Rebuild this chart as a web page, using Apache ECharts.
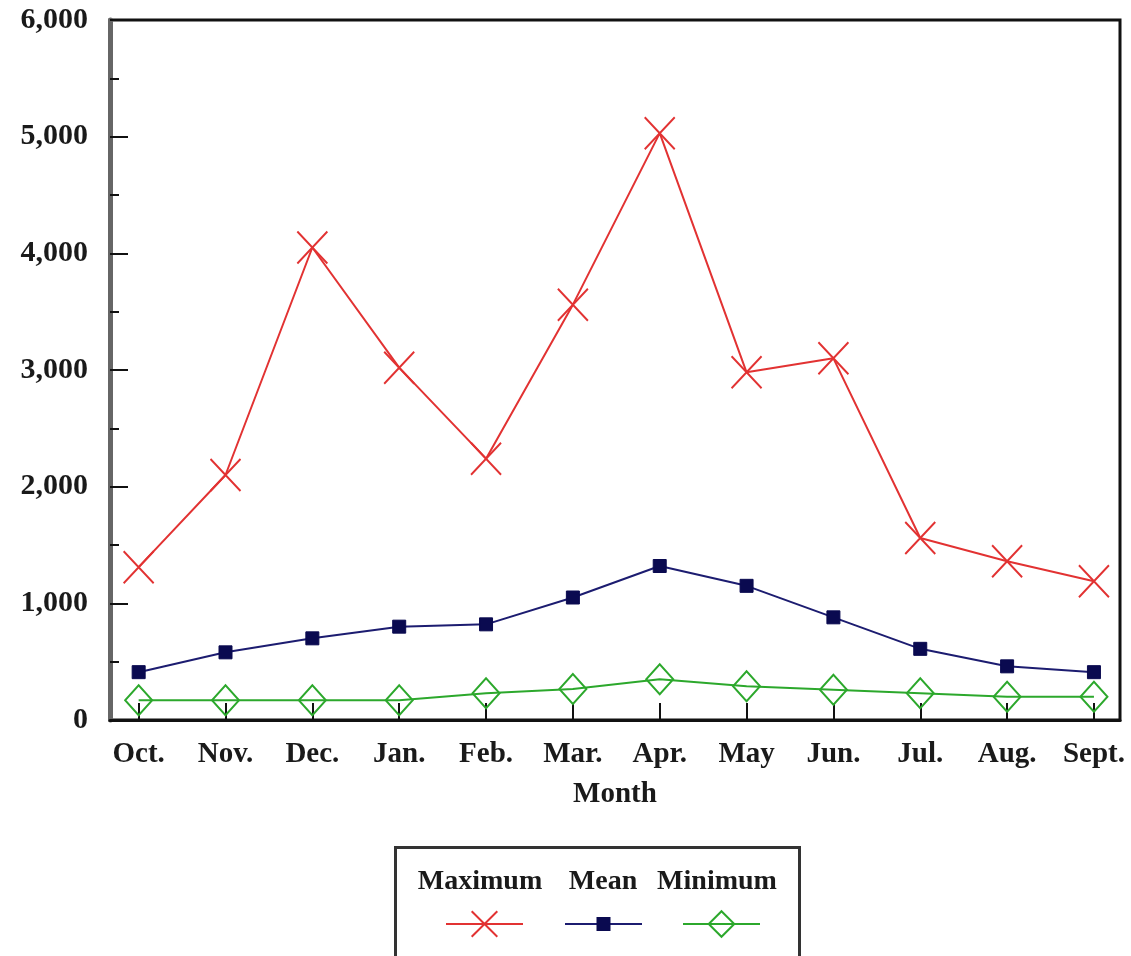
<!DOCTYPE html>
<html>
<head>
<meta charset="utf-8">
<script src="https://cdn.jsdelivr.net/npm/echarts@6/dist/echarts.min.js"></script>
<style>
  html, body { margin: 0; padding: 0; background: #fff; }
  #chart { width: 1131px; height: 956px; }
</style>
</head>
<body>
<div id="chart"></div>
<script>
// data
var months = ['Oct.', 'Nov.', 'Dec.', 'Jan.', 'Feb.', 'Mar.', 'Apr.', 'May', 'Jun.', 'Jul.', 'Aug.', 'Sept.'];
var maximum = [1310, 2100, 4050, 3020, 2240, 3560, 5030, 2980, 3100, 1560, 1360, 1190];
var mean = [410, 580, 700, 800, 820, 1050, 1320, 1150, 880, 610, 460, 410];
var minimum = [170, 170, 170, 170, 230, 265, 350, 290, 260, 230, 200, 200];
var yTicks = [0, 1000, 2000, 3000, 4000, 5000, 6000];

var font = 'Liberation Serif';
var monthIdx = months.map(function (m, i) { return i; });
function pairs(arr) { return arr.map(function (v, i) { return [i, v]; }); }

// one legend per series so each icon keeps its own marker size
function legendFor(name, left, h) {
    return {
        left: left,
        top: 924 - h / 2,
        padding: 0,
        itemWidth: 77,
        itemHeight: h,
        formatter: function () { return ''; },
        data: [name]
    };
}

function legendText(txt, x) {
    return {
        type: 'text', position: [x, 882],
        style: { text: txt, font: 'bold 28px "Liberation Serif"', fill: '#1a1a1a', textAlign: 'center', textVerticalAlign: 'middle' }
    };
}

var chart = echarts.init(document.getElementById('chart'));

var option = {
    animation: false,
    backgroundColor: '#fff',
    grid: {
        left: 110, top: 20, right: 11, bottom: 236,
        show: true,
        borderColor: '#111',
        borderWidth: 3
    },
    xAxis: {
        type: 'value',
        min: -0.33,
        max: 11.3,
        name: 'Month',
        nameLocation: 'middle',
        nameGap: 60,
        nameTextStyle: { fontFamily: font, fontSize: 29, fontWeight: 'bold', color: '#1a1a1a' },
        axisLine: { show: true, onZero: false, lineStyle: { color: '#111', width: 3 } },
        axisTick: { show: true, inside: true, length: 17, customValues: monthIdx, lineStyle: { color: '#111', width: 2 } },
        axisLabel: {
            customValues: monthIdx,
            margin: 20,
            fontFamily: font, fontSize: 29, fontWeight: 'bold', color: '#1a1a1a',
            formatter: function (v) { return months[Math.round(v)]; }
        },
        splitLine: { show: false }
    },
    yAxis: {
        type: 'value',
        min: yTicks[0],
        max: yTicks[yTicks.length - 1],
        interval: 1000,
        axisLine: { show: true, onZero: false, lineStyle: { color: '#666', width: 5 } },
        axisTick: { show: true, inside: true, length: 18, lineStyle: { color: '#111', width: 2 } },
        minorTick: { show: true, splitNumber: 2, length: 9, lineStyle: { color: '#111', width: 2 } },
        axisLabel: {
            margin: 22,
            fontFamily: font, fontSize: 30, fontWeight: 'bold', color: '#1a1a1a',
            formatter: function (v) { return v.toLocaleString('en-US'); }
        },
        splitLine: { show: false }
    },
    legend: [
        legendFor('Maximum', 445, 32),
        legendFor('Mean', 564, 15),
        legendFor('Minimum', 682, 32)
    ],
    graphic: [
        { type: 'rect', left: 393, top: 845, shape: { width: 404, height: 130 }, style: { fill: 'none', stroke: '#333', lineWidth: 3 } },
        legendText('Maximum', 480),
        legendText('Mean', 603),
        legendText('Minimum', 717)
    ],
    series: [
        {
            name: 'Maximum',
            type: 'line',
            data: pairs(maximum),
            symbol: 'path://M0,0L10,10M10,0L0,10',
            symbolSize: [30, 32],
            lineStyle: { color: '#e23232', width: 2 },
            itemStyle: { color: '#e23232', borderColor: '#e23232', borderWidth: 2 }
        },
        {
            name: 'Mean',
            type: 'line',
            data: pairs(mean),
            symbol: 'rect',
            symbolSize: 13,
            lineStyle: { color: '#1c1c70', width: 2 },
            itemStyle: { color: '#0a0a50', borderColor: '#0a0a50', borderWidth: 1 }
        },
        {
            name: 'Minimum',
            type: 'line',
            data: pairs(minimum),
            symbol: 'diamond',
            symbolSize: [27, 30],
            lineStyle: { color: '#2ca82c', width: 2 },
            itemStyle: { color: 'rgba(255,255,255,0)', borderColor: '#2ca82c', borderWidth: 2 }
        }
    ]
};

chart.setOption(option);
</script>
</body>
</html>
